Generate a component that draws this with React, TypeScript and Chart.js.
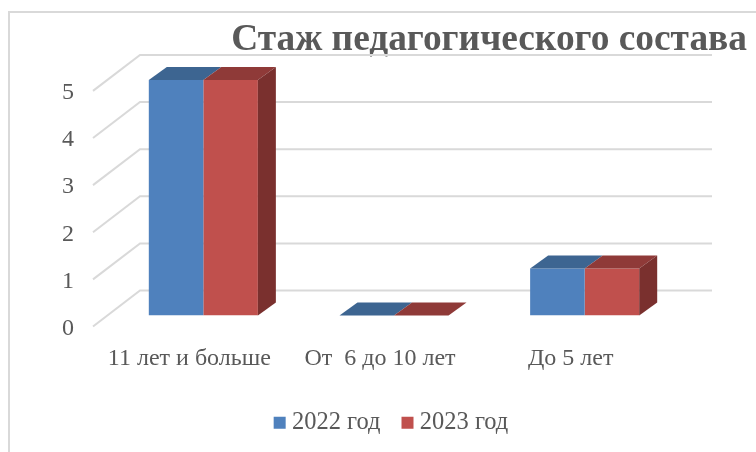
import React, { useEffect, useRef } from "react";
import { Chart, registerables } from "chart.js";

Chart.register(...registerables);

const categories = ["11 лет и больше", "От  6 до 10 лет", "До 5 лет"];
const series2022 = [5, 0, 1];
const series2023 = [5, 0, 1];
const FONT = "'Liberation Serif', serif";
const TEXT = "#595959";
const GRID = "#d9d9d9";

const frame = {
  id: "frame",
  beforeDraw(chart: any) {
    const { ctx, width, height } = chart;
    ctx.save();
    ctx.fillStyle = "#fff";
    ctx.fillRect(0, 0, width, height);
    ctx.strokeStyle = "#d9d9d9";
    ctx.lineWidth = 2;
    ctx.beginPath();
    ctx.moveTo(9, height);
    ctx.lineTo(9, 12);
    ctx.lineTo(width, 12);
    ctx.stroke();
    ctx.restore();
  },
};

const walls = {
  id: "walls",
  beforeDatasetsDraw(chart: any) {
    const { ctx, chartArea } = chart;
    const y = chart.scales.y;
    ctx.save();
    ctx.strokeStyle = GRID;
    ctx.lineWidth = 2;
    y.ticks.forEach((t: any) => {
      const p = y.getPixelForValue(t.value);
      ctx.beginPath();
      ctx.moveTo(chartArea.left - 15, p + 11);
      ctx.lineTo(chartArea.left + 32, p - 25);
      ctx.lineTo(chartArea.right + 32, p - 25);
      ctx.stroke();
    });
    ctx.restore();
  },
};

const DX = 18;
const DY = 13;
const topColors = ["#3d6591", "#8f3a38"];
const sideColors = ["#3d6591", "#7a302e"];

const faces = {
  id: "faces",
  afterDatasetsDraw(chart: any) {
    const { ctx } = chart;
    ctx.save();
    chart.data.datasets.forEach((_: any, di: number) => {
      chart.getDatasetMeta(di).data.forEach((bar: any) => {
        const { x, y, base, width } = bar.getProps(["x", "y", "base", "width"], true);
        const l = x - width / 2;
        const r = x + width / 2;
        ctx.fillStyle = topColors[di];
        ctx.beginPath();
        ctx.moveTo(l, y);
        ctx.lineTo(l + DX, y - DY);
        ctx.lineTo(r + DX, y - DY);
        ctx.lineTo(r, y);
        ctx.closePath();
        ctx.fill();
        if (di === chart.data.datasets.length - 1 && base - y > 0) {
          ctx.fillStyle = sideColors[di];
          ctx.beginPath();
          ctx.moveTo(r, y);
          ctx.lineTo(r + DX, y - DY);
          ctx.lineTo(r + DX, base - DY);
          ctx.lineTo(r, base);
          ctx.closePath();
          ctx.fill();
        }
      });
    });
    ctx.restore();
  },
};

export default function App() {
  const ref = useRef<HTMLCanvasElement>(null);
  useEffect(() => {
    document.body.style.margin = "0";
    const chart = new Chart(ref.current!, {
      type: "bar",
      data: {
        labels: categories,
        datasets: [
          { label: "2022 год", data: series2022, backgroundColor: "#4f81bd", borderWidth: 0, yAxisID: "y", pointStyle: "rect" },
          { label: "2023 год", data: series2023, backgroundColor: "#c0504d", borderWidth: 0, yAxisID: "y", pointStyle: "rect" },
        ],
      },
      plugins: [frame, walls, faces],
      options: {
        responsive: false,
        animation: false,
        layout: { padding: { left: 0, right: 9, top: 0, bottom: 7 } },
        datasets: { bar: { categoryPercentage: 0.572, barPercentage: 1 } },
        scales: {
          x: {
            grid: { display: false },
            border: { display: false },
            ticks: {
              color: TEXT,
              font: { family: FONT, size: 24 },
              labelOffset: -14,
              padding: 21,
              autoSkip: false,
              maxRotation: 0,
            },
            afterFit(s: any) {
              s.height = 68;
            },
          },
          y: {
            position: "left",
            min: 0,
            max: 5,
            grid: { display: false },
            border: { display: false },
            ticks: {
              stepSize: 1,
              color: TEXT,
              font: { family: FONT, size: 24 },
              labelOffset: 13,
              padding: 26,
            },
            afterFit(s: any) {
              s.width = 108;
            },
          },
          spacer: {
            position: "right",
            display: true,
            min: 0,
            max: 5,
            grid: { display: false },
            border: { display: false },
            ticks: { display: false },
            afterFit(s: any) {
              s.width = 67;
            },
          },
        },
        plugins: {
          tooltip: { enabled: false },
          title: {
            display: true,
            text: "Стаж педагогического состава",
            align: "end",
            color: TEXT,
            font: { family: FONT, size: 37.4, weight: "bold" },
            padding: { top: 18, bottom: 17 },
          },
          legend: {
            position: "bottom",
            fullSize: false,
            labels: {
              color: TEXT,
              font: { family: FONT, size: 24.5 },
              usePointStyle: true,
              boxWidth: 0.01,
              boxHeight: 12,
              padding: 27,
            },
          },
        },
      },
    } as any);
    return () => chart.destroy();
  }, []);
  return <canvas ref={ref} width={756} height={452} style={{ display: "block" }} />;
}
